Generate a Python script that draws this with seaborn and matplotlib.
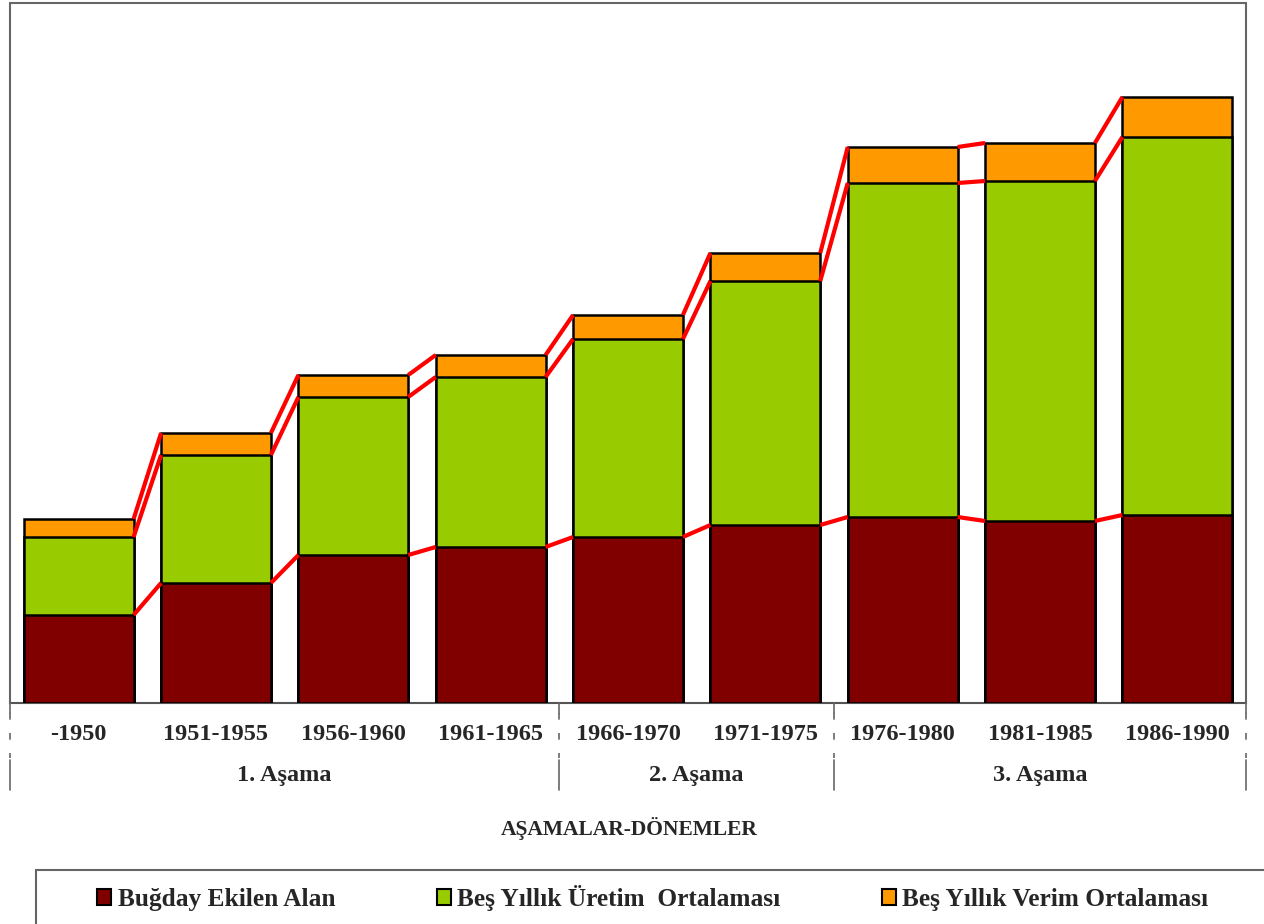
import matplotlib
matplotlib.use("Agg")
import matplotlib.pyplot as plt
import seaborn as sns
import numpy as np
import pandas as pd
from matplotlib.patches import Rectangle, Patch
from matplotlib.lines import Line2D

# ---- data (arbitrary units) ----
periods = ["-1950", "1951-1955", "1956-1960", "1961-1965", "1966-1970",
           "1971-1975", "1976-1980", "1981-1985", "1986-1990"]
stages = ["1. Aşama", "2. Aşama", "3. Aşama"]
stage_sizes = [4, 2, 3]
alan = [88, 120, 148, 156, 166, 178, 186, 182, 188]
uretim = [78, 128, 158, 170, 198, 244, 334, 340, 378]
verim = [18, 22, 22, 22, 24, 28, 36, 38, 40]
series_names = ["Buğday Ekilen Alan", "Beş Yıllık Üretim  Ortalaması", "Beş Yıllık Verim Ortalaması"]
colors = ["#800000", "#99CC00", "#FF9900"]

sns.set_style("white")
plt.rcParams['font.family'] = ['Liberation Serif', 'DejaVu Serif']

W, H = 1264, 924
fig = plt.figure(figsize=(W / 100, H / 100), dpi=100)
ax_l, ax_r, ax_t, ax_b = 10, 1246, 3, 703
ax = fig.add_axes([ax_l / W, 1 - ax_b / H, (ax_r - ax_l) / W, (ax_b - ax_t) / H])

c1 = np.array(alan, dtype=float)
c2 = c1 + np.array(uretim)
c3 = c2 + np.array(verim)
df = pd.DataFrame({"period": periods, "c1": c1, "c2": c2, "c3": c3})

for col, color in zip(["c3", "c2", "c1"], colors[::-1]):
    sns.barplot(data=df, x="period", y=col, color=color, order=periods,
                width=0.8, edgecolor="black", linewidth=1.8, saturation=1,
                ax=ax, zorder=3, errorbar=None)

# series lines
for tops in (c1, c2, c3):
    for i in range(len(periods) - 1):
        ax.plot([i + 0.4, i + 0.6], [tops[i], tops[i + 1]], color="#FF0000",
                lw=3, solid_capstyle="butt", zorder=4)

ax.set_xlim(-0.5, len(periods) - 0.5)
ax.set_ylim(0, 700)
ax.set_yticks([])
ax.set_xlabel("")
ax.set_ylabel("")
ax.tick_params(axis="x", length=0, pad=15)
ax.set_xticks(range(len(periods)))
ax.set_xticklabels(periods, fontsize=17.5, fontweight="bold")
for s in ["left", "right", "top"]:
    ax.spines[s].set_visible(False)
ax.spines["bottom"].set_color("#555555")
ax.spines["bottom"].set_linewidth(1.5)

def fx(px):
    return px / W

def fy(py):
    return 1 - py / H

gray = "#666666"
# outer frame
fig.add_artist(Line2D([fx(10), fx(1246)], [fy(3), fy(3)], color=gray, lw=1.5))
fig.add_artist(Line2D([fx(10), fx(10)], [fy(3), fy(703)], color=gray, lw=1.5))
fig.add_artist(Line2D([fx(1246), fx(1246)], [fy(3), fy(703)], color=gray, lw=1.5))

# stage dividers and labels
cat_w = (ax_r - ax_l) / len(periods)
bounds = [0]
for s in stage_sizes:
    bounds.append(bounds[-1] + s)
for b in bounds:
    xp = ax_l + b * cat_w
    xp = min(max(xp, 10), 1246)
    fig.add_artist(Line2D([fx(xp), fx(xp)], [fy(703), fy(713)], color=gray, lw=1.2))
    fig.add_artist(Line2D([fx(xp), fx(xp)], [fy(713), fy(758)], color=gray, lw=1.2,
                          linestyle=(0, (4, 8))))
    fig.add_artist(Line2D([fx(xp), fx(xp)], [fy(760), fy(790)], color=gray, lw=1.2))
for k, name in enumerate(stages):
    xc = ax_l + (bounds[k] + bounds[k + 1]) / 2 * cat_w
    fig.text(fx(xc), fy(776), name, ha="center", va="center", fontsize=17.5,
             fontweight="bold")

fig.text(fx(629), fy(828), "AŞAMALAR-DÖNEMLER", ha="center", va="center",
         fontsize=15.5, fontweight="bold")

# legend box
fig.add_artist(Rectangle((fx(36), fy(930)), fx(1240), fy(870) - fy(930),
                         facecolor="none", edgecolor=gray, lw=1.5))
handles = [Patch(facecolor=c, edgecolor="black", lw=1.5) for c in colors]
fig.legend(handles, series_names, loc="center", bbox_to_anchor=(fx(653), fy(898)),
           ncol=3, frameon=False, handlelength=0.55, handleheight=0.55,
           handletextpad=0.25, columnspacing=4.0,
           prop={"family": "Liberation Serif", "weight": "bold", "size": 18.3})

fig.savefig("out.png", dpi=100)
